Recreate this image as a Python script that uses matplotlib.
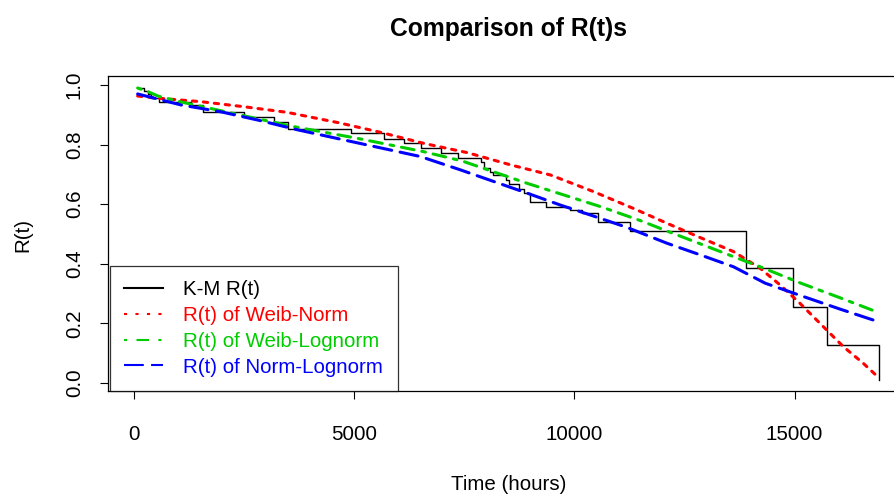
#%% MODULE BEGINS               ~~~~~~~~~~~~~~~~~~~~~~~~~~~~~~~~~~~~~~~~~~~~
module_name = '<RtComparison>'

'''
Description:
    K-M estimate of R(t) against three fitted mixture models.
'''

#%% IMPORTS               ~~~~~~~~~~~~~~~~~~~~~~~~~~~~~~~~~~~~~~~~~~~~
import matplotlib
matplotlib.use('Agg')
import matplotlib.pyplot as plt
from matplotlib.lines import Line2D

#%% DATA               ~~~~~~~~~~~~~~~~~~~~~~~~~~~~~~~~~~~~~~~~~~~~
# Kaplan-Meier steps (time of drop, R(t) after the drop)
km_time = [80, 220, 311, 385, 574, 1293, 1558, 2501, 3175, 3492, 4921, 5669,
           6123, 6508, 6962, 7347, 7885, 7937, 8073, 8141, 8435, 8503, 8730,
           8844, 9002, 9365, 9909, 10175, 10544, 11270, 13894, 14973, 15730,
           16916]
km_surv = [0.990, 0.981, 0.970, 0.955, 0.944, 0.933, 0.908, 0.894, 0.876,
           0.854, 0.838, 0.819, 0.804, 0.790, 0.771, 0.756, 0.743, 0.721,
           0.709, 0.698, 0.681, 0.668, 0.650, 0.637, 0.608, 0.592, 0.581,
           0.569, 0.540, 0.511, 0.385, 0.254, 0.128, 0.010]

# R(t) of Weib-Norm
wn_time = [80, 612, 1519, 2501, 3485, 4656, 5601, 6583, 7567, 8549, 9456,
           10438, 11400, 12102, 12857, 13613, 14218, 14671, 15125, 15504,
           16107, 16561, 16916]
wn_surv = [0.963, 0.955, 0.944, 0.927, 0.908, 0.873, 0.841, 0.804, 0.773,
           0.732, 0.698, 0.642, 0.582, 0.536, 0.488, 0.441, 0.385, 0.329,
           0.267, 0.211, 0.122, 0.066, 0.017]

# R(t) of Weib-Lognorm
wl_time = [80, 310, 540, 1066, 2426, 3600, 5072, 6583, 7450, 8928, 10590,
           11497, 12102, 13613, 14218, 15125, 16032, 16916]
wl_surv = [0.990, 0.978, 0.963, 0.943, 0.899, 0.861, 0.821, 0.776, 0.745,
           0.670, 0.592, 0.545, 0.510, 0.424, 0.390, 0.336, 0.286, 0.236]

# R(t) of Norm-Lognorm
nl_time = [80, 1066, 1973, 2880, 3700, 4694, 5753, 6500, 7415, 8171, 8928,
           9683, 10438, 11195, 12102, 12857, 13613, 14331, 15125, 16032,
           16916]
nl_surv = [0.970, 0.933, 0.910, 0.880, 0.850, 0.818, 0.784, 0.760, 0.715,
           0.676, 0.637, 0.597, 0.560, 0.522, 0.469, 0.430, 0.390, 0.335,
           0.294, 0.248, 0.205]

legend_labels = ['K-M R(t)', 'R(t) of Weib-Norm', 'R(t) of Weib-Lognorm',
                 'R(t) of Norm-Lognorm']
x_ticks = [0, 5000, 10000, 15000]
y_ticks = [0.0, 0.2, 0.4, 0.6, 0.8, 1.0]

#%% STYLE               ~~~~~~~~~~~~~~~~~~~~~~~~~~~~~~~~~~~~~~~~~~~~
W, H = 894, 496
FS = 14.8
RED, GREEN, BLUE = '#FF0000', '#00CD00', '#0000FF'
plt.rcParams['font.family'] = ['Liberation Sans', 'DejaVu Sans']

#%% PLOT               ~~~~~~~~~~~~~~~~~~~~~~~~~~~~~~~~~~~~~~~~~~~~
fig = plt.figure(figsize=(W / 100, H / 100), dpi=100)

# Plot box in pixels (right edge runs past the picture, as in the original)
left, right, top, bottom = 108, 908.6, 76, 391
ax = fig.add_axes([left / W, (H - bottom) / H, (right - left) / W, (bottom - top) / H])

ax.step(km_time, km_surv, where='post', color='black', lw=1.0)

lw = 2.2
ax.plot(wn_time, wn_surv, color=RED, lw=lw, dashes=(1.4, 2.2), dash_capstyle='round')
ax.plot(wl_time, wl_surv, color=GREEN, lw=lw, dashes=(1.2, 2.6, 4.2, 2.6), dash_capstyle='round')
ax.plot(nl_time, nl_surv, color=BLUE, lw=lw, dashes=(6.0, 2.8), dash_capstyle='round')

ax.set_xlim(-593, 17589)
ax.set_ylim(-0.0268, 1.0302)
ax.set_xticks(x_ticks)
ax.set_xticklabels([str(t) for t in x_ticks])
ax.set_yticks(y_ticks)
ax.set_yticklabels([f'{v:.1f}' for v in y_ticks], rotation=90, va='center')

ax.tick_params(axis='both', direction='out', length=5.8, width=0.8, labelsize=FS)
ax.tick_params(axis='x', pad=18.5)
ax.tick_params(axis='y', pad=11.5)
for sp in ax.spines.values():
    sp.set_linewidth(0.9)

# Titles and axis labels
cx = (left + right) / 2 / W
fig.text(cx, 1 - 29 / H, 'Comparison of R(t)s', ha='center', va='center',
         fontsize=FS * 1.2, fontweight='bold')
fig.text(cx, 1 - 484 / H, 'Time (hours)', ha='center', va='center', fontsize=FS)
fig.text(23 / W, 1 - 235 / H, 'R(t)', ha='center', va='center', rotation=90, fontsize=FS)

# Legend
handles = [
    Line2D([], [], color='black', lw=1.5),
    Line2D([], [], color=RED, lw=1.5, dashes=(1.5, 4.0)),
    Line2D([], [], color=GREEN, lw=1.5, dashes=(1.5, 4.5, 6, 4.5)),
    Line2D([], [], color=BLUE, lw=1.5, dashes=(9.5, 3.5)),
]
leg = ax.legend(handles, legend_labels, loc='lower left', bbox_to_anchor=(0.0025, 0.0),
                fontsize=FS, frameon=True, fancybox=False, borderpad=0.7,
                borderaxespad=0.0, handlelength=1.87, handletextpad=1.0,
                labelspacing=0.33)
leg.get_frame().set_edgecolor('black')
leg.get_frame().set_linewidth(0.9)
for txt, col in zip(leg.get_texts(), ['black', RED, GREEN, BLUE]):
    txt.set_color(col)

fig.savefig('out.png', dpi=100)
